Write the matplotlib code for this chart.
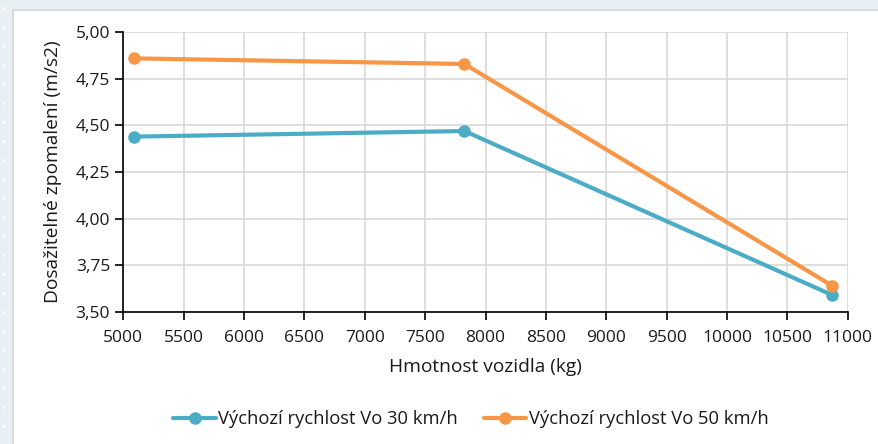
import matplotlib
matplotlib.use("Agg")
import matplotlib.pyplot as plt
from matplotlib.patches import Rectangle
from matplotlib.ticker import FuncFormatter, MultipleLocator
import numpy as np

plt.rcParams['font.family'] = ['Open Sans', 'DejaVu Sans']

# Vehicle mass (kg) and achievable deceleration (m/s2)
hmotnost = [5090, 7825, 10870]
zpomaleni_30 = [4.44, 4.47, 3.59]
zpomaleni_50 = [4.86, 4.83, 3.64]
serie_nazvy = ["Výchozí rychlost Vo 30 km/h", "Výchozí rychlost Vo 50 km/h"]
barvy = ["#4bacc6", "#f79646"]

W, H = 879, 444
fig = plt.figure(figsize=(W / 100, H / 100), dpi=100)
fig.patch.set_facecolor("#e9eff2")

# page background and white card
bg = fig.add_axes([0, 0, 1, 1], zorder=-10)
bg.set_xlim(0, W)
bg.set_ylim(H, 0)
bg.axis("off")
gx, gy = np.meshgrid([4], np.arange(8, H, 19))
bg.scatter(gx.ravel(), gy.ravel(), s=6, color="white", alpha=0.8, lw=0)
bg.add_patch(Rectangle((13, 10), W, H, facecolor="white", edgecolor="#d6dcdf", lw=1.5))

ax = fig.add_axes([123.3 / W, 1 - 311.7 / H, (847.7 - 123.3) / W, (311.7 - 32.3) / H])
ax.set_facecolor("none")

for y, nazev, c in zip([zpomaleni_30, zpomaleni_50], serie_nazvy, barvy):
    ax.plot(hmotnost, y, color=c, lw=3, marker="o", markersize=8, label=nazev,
            solid_capstyle="round", zorder=3)

ax.set_xlim(5000, 11000)
ax.set_ylim(3.5, 5.0)
ax.xaxis.set_major_locator(MultipleLocator(500))
ax.yaxis.set_major_locator(MultipleLocator(0.25))
ax.yaxis.set_major_formatter(FuncFormatter(lambda v, p: f"{v:.2f}".replace(".", ",")))

ax.grid(True, color="#d9d9d9", lw=1.2)
ax.set_axisbelow(True)
for s in ["top", "right"]:
    ax.spines[s].set_visible(False)
for s in ["left", "bottom"]:
    ax.spines[s].set_color("#000000")
    ax.spines[s].set_linewidth(1.2)
ax.tick_params(axis="both", direction="out", length=6, width=1.2, labelsize=12.5,
               colors="#000000", labelcolor="#1a1a1a")
ax.tick_params(axis="x", pad=7)

ax.set_xlabel("Hmotnost vozidla (kg)", fontsize=13.8, color="#1a1a1a", labelpad=9)
ax.set_ylabel("Dosažitelné zpomalení (m/s2)", fontsize=13.8, color="#1a1a1a", labelpad=10)

fig.legend(loc="center", bbox_to_anchor=(471 / W, 1 - 419 / H), ncol=2, frameon=False,
           fontsize=13.2, handlelength=2.3, columnspacing=1.4, handletextpad=0.15,
           labelcolor="#1a1a1a")

fig.savefig("out.png", dpi=100, facecolor=fig.get_facecolor())
